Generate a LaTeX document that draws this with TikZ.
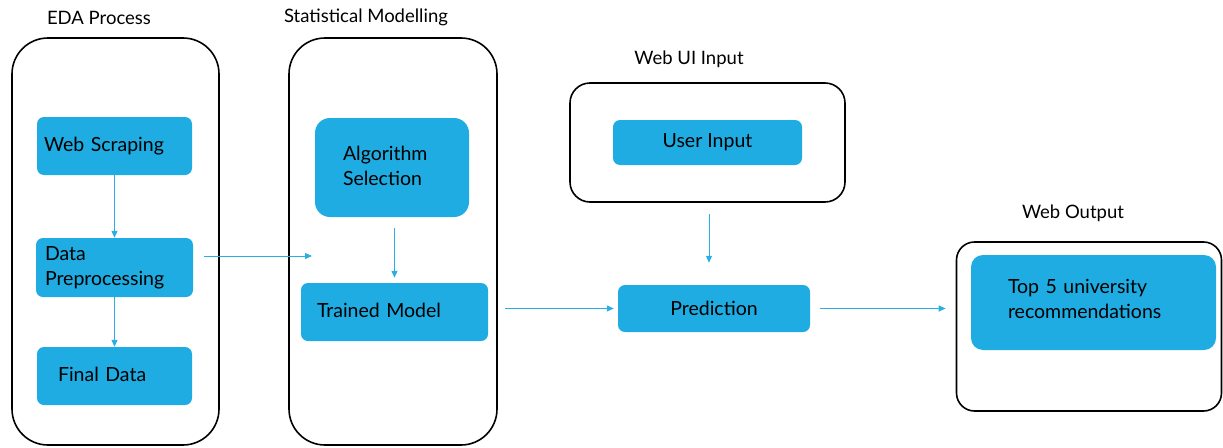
\documentclass[tikz,border=0pt]{standalone}
\usepackage{fontspec}
\setmainfont{Lato}
\usetikzlibrary{arrows.meta,calc}
\definecolor{boxblue}{HTML}{1EACE2}
\definecolor{arrblue}{HTML}{2AAFE4}
\begin{document}
\begin{tikzpicture}[x=1pt,y=-1pt,
  outer/.style={draw=black,line width=1.6pt,fill=none,inner sep=0pt},
  bluebox/.style={fill=boxblue,draw=none,rounded corners=7pt,inner ysep=0pt,align=left,font=\fontsize{19.5}{25}\selectfont,text=black},
  title/.style={font=\fontsize{18.5}{21}\selectfont,text=black,inner sep=0pt},
  conn/.style={draw=arrblue,line width=1pt,-{Triangle[length=7pt,width=6pt]}}]
\useasboundingbox (0,0) rectangle (1223,447);
% outer containers
\node[outer,rounded corners=36pt,minimum width=207pt,minimum height=407pt] (eda) at (115.5,241.5) {};
\node[outer,rounded corners=36pt,minimum width=208pt,minimum height=407pt] (sm) at (393,241.5) {};
\node[outer,rounded corners=20pt,minimum width=275pt,minimum height=119pt] (ui) at (707.5,142.5) {};
\node[outer,rounded corners=18pt,minimum width=265pt,minimum height=169pt] (wo) at (1089,326.5) {};
% titles
\node[title] (t1) at (99,18) {EDA Process};
\node[title] (t2) at (366,17) {Statistical Modelling};
\node[title] (t3) at (689,59) {Web UI Input};
\node[title] (t4) at (1073,213) {Web Output};
% blue boxes
\node[bluebox,minimum width=155pt,minimum height=58pt,text width=141pt,inner xsep=7pt] (ws) at (114.5,146) {Web Scraping};
\node[bluebox,minimum width=155pt,minimum height=59pt,text width=139pt,inner xsep=9pt] (dp) at (114.5,267.5) {\raisebox{2pt}{\parbox[b]{139pt}{Data\\Preprocessing}}};
\node[bluebox,minimum width=155pt,minimum height=58pt,text width=113pt,inner xsep=21pt] (fd) at (114.5,376) {\raisebox{3pt}{Final Data}};
\node[bluebox,rounded corners=15pt,minimum width=154pt,minimum height=99pt,text width=98pt,inner xsep=28pt] (alg) at (392,167.5) {\raisebox{3pt}{\parbox[b]{98pt}{Algorithm\\Selection}}};
\node[bluebox,minimum width=187pt,minimum height=58pt,text width=155pt,inner xsep=16pt] (tm) at (394.5,312) {\raisebox{3pt}{Trained Model}};
\node[bluebox,minimum width=189pt,minimum height=45pt,align=center] (uin) at (707.5,142.5) {User Input};
\node[bluebox,minimum width=192pt,minimum height=47pt,align=center] (pred) at (714,308.5) {Prediction};
\node[bluebox,rounded corners=12pt,minimum width=245pt,minimum height=95pt,text width=171pt,inner xsep=37pt] (top) at (1093.5,302.5) {\raisebox{8pt}{\parbox[b]{171pt}{Top 5 university\\recommendations}}};
% connectors
\coordinate (dpend) at (312,256);
\draw[conn] (ws.south) -- (dp.north);
\draw[conn] (dp.south) -- (fd.north);
\draw[conn] (dp.east |- dpend) ++(11,0) -- (dpend);
\draw[conn,shorten <=11pt,shorten >=5pt] (tm.north |- alg.south) -- (tm.north);
\draw[conn,shorten <=17pt,shorten >=4pt] (tm.east |- pred.west) -- (pred.west);
\draw[conn,shorten <=11pt,shorten >=22pt] (ui.south -| 709,0) -- (pred.north -| 709,0);
\draw[conn,shorten <=10pt,shorten >=10pt] (pred.east) -- (wo.west |- pred.east);
\end{tikzpicture}
\end{document}
